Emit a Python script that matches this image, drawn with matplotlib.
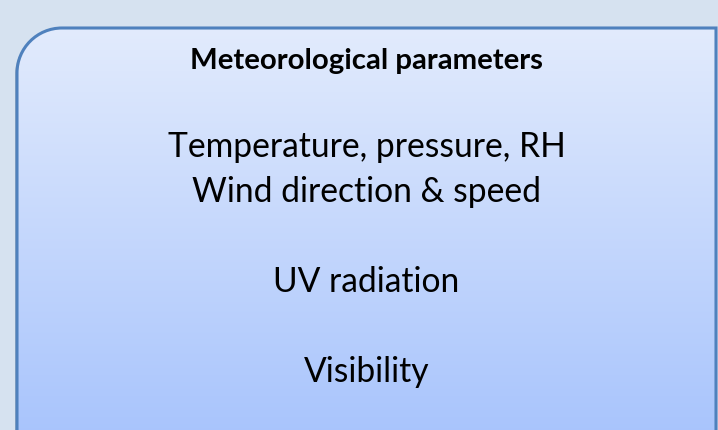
import numpy as np
import matplotlib
matplotlib.use("Agg")
from matplotlib import pyplot as plt
from matplotlib.path import Path
from matplotlib.patches import PathPatch
from matplotlib.transforms import Affine2D

title = "Meteorological parameters"
lines = ["Temperature, pressure, RH", "Wind direction & speed", "UV radiation", "Visibility"]
line_y = [157, 202, 292, 382]   # baselines in pixels

W, H = 718, 431
fig = plt.figure(figsize=(W / 100, H / 100), dpi=100)
fig.patch.set_facecolor("#d6e2f0")
ax = fig.add_axes([0, 0, 1, 1])
ax.axis("off")

# box with rounded top-left corner only
x0, y0, x1, y1, r = 17, 29, 716, 440, 45
k = 0.5523 * r
verts = [(x0, y1), (x0, y0 + r), (x0, y0 + r - k), (x0 + r - k, y0), (x0 + r, y0),
         (x1, y0), (x1, y1), (x0, y1)]
codes = [Path.MOVETO, Path.LINETO, Path.CURVE4, Path.CURVE4, Path.CURVE4,
         Path.LINETO, Path.LINETO, Path.CLOSEPOLY]
box = Path(verts, codes)

# soft shadow behind the box
shadow = PathPatch(box.transformed(Affine2D().translate(-2, 2)),
                   facecolor="#a8b4c2", edgecolor="none", zorder=-2)
ax.add_patch(shadow)

top = np.array([0xe2, 0xeb, 0xfd]) / 255
bot = np.array([0xa8, 0xc4, 0xfc]) / 255
t = np.linspace(0, 1, 256)[:, None, None]
grad = top + (bot - top) * t
im = ax.imshow(grad, extent=[x0, x1, y1, y0], aspect="auto",
               interpolation="bilinear", zorder=0)
clip = PathPatch(box, facecolor="none", edgecolor="none", transform=ax.transData)
ax.add_patch(clip)
im.set_clip_path(clip)
ax.add_patch(PathPatch(box, facecolor="none", edgecolor="#4f81bd", lw=2.2, zorder=2))
ax.set_xlim(0, W)
ax.set_ylim(H, 0)

cx = (x0 + x1) / 2
ax.text(cx, 69, title, ha="center", va="baseline", fontsize=21.2, fontweight="bold",
        family="Lato", color="black", zorder=3)
for s, y in zip(lines, line_y):
    ax.text(cx, y, s, ha="center", va="baseline", fontsize=24.2, family="Lato",
            color="black", zorder=3)

fig.savefig("out.png", dpi=100, facecolor=fig.get_facecolor())
